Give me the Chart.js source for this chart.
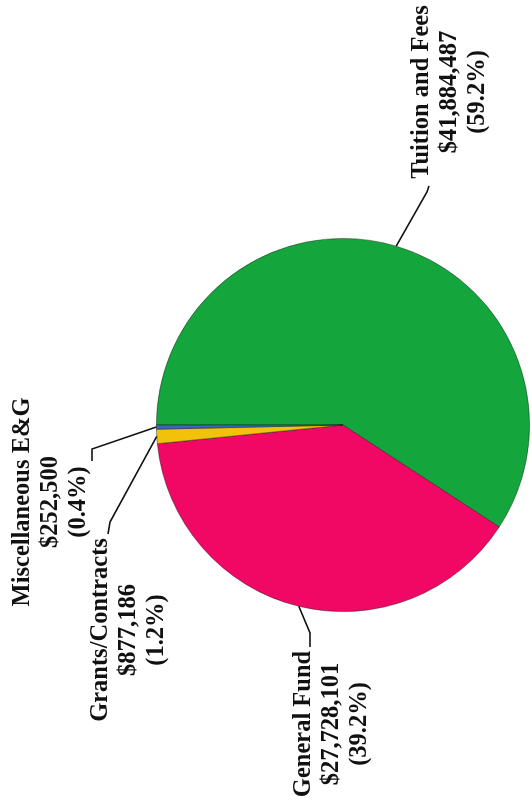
<!DOCTYPE html>
<html>
<head>
<meta charset="utf-8">
<script src="https://cdn.jsdelivr.net/npm/chart.js@4"></script>
<style>
  html, body { margin: 0; padding: 0; background: #ffffff; }
  #wrap { width: 532px; height: 805px; }
</style>
</head>
<body>
<div id="wrap"><canvas id="c" width="532" height="805"></canvas></div>
<script>
const categories = ["Tuition and Fees", "General Fund", "Grants/Contracts", "Miscellaneous E&G"];
const amounts = [41884487, 27728101, 877186, 252500];
const sliceColors = ["#14a63c", "#f00864", "#f2c20a", "#3866c4"];

const total = amounts.reduce((a, b) => a + b, 0);

// label layout (rotated text blocks): middle-line x, block center y, elbow & hook ends
const labelLayout = [
  { midX: 450, cy: 92,  elbow: [427, 192], hook: [429, 186] },
  { midX: 332, cy: 724, elbow: [310, 633], hook: [310, 647] },
  { midX: 129, cy: 630, elbow: [110, 522], hook: [108, 534] },
  { midX: 51,  cy: 502, elbow: [92, 449],  hook: [92, 461] }
];

const labelPlugin = {
  id: 'rotLabels',
  afterDraw(chart) {
    const ctx = chart.ctx;
    const meta = chart.getDatasetMeta(0);
    ctx.save();
    ctx.strokeStyle = '#111';
    ctx.lineWidth = 1.6;
    ctx.fillStyle = '#111';
    ctx.font = 'bold 24.5px "Liberation Serif", "Times New Roman", serif';
    meta.data.forEach((arc, i) => {
      const p = arc.getProps(['x', 'y', 'startAngle', 'endAngle', 'outerRadius'], true);
      const mid = (p.startAngle + p.endAngle) / 2;
      const ax = p.x + Math.cos(mid) * p.outerRadius;
      const ay = p.y + Math.sin(mid) * p.outerRadius;
      const L = labelLayout[i];
      ctx.beginPath();
      ctx.moveTo(ax, ay);
      ctx.lineTo(L.elbow[0], L.elbow[1]);
      ctx.lineTo(L.hook[0], L.hook[1]);
      ctx.stroke();
      const pct = (amounts[i] / total * 100).toFixed(1);
      const lines = [categories[i], '$' + amounts[i].toLocaleString('en-US'), '(' + pct + '%)'];
      lines.forEach((t, k) => {
        ctx.save();
        ctx.translate(L.midX + (k - 1) * 28, L.cy);
        ctx.rotate(-Math.PI / 2);
        ctx.textAlign = 'center';
        ctx.textBaseline = 'middle';
        ctx.fillText(t, 0, 0);
        ctx.restore();
      });
    });
    ctx.restore();
  }
};

new Chart(document.getElementById('c'), {
  type: 'pie',
  data: {
    labels: categories,
    datasets: [{
      data: amounts,
      backgroundColor: sliceColors,
      borderColor: 'rgba(20,20,20,0.55)',
      borderWidth: 0.8
    }]
  },
  options: {
    responsive: false,
    animation: false,
    rotation: 270,
    layout: { padding: { left: 156, right: 2, top: 238, bottom: 193 } },
    plugins: { legend: { display: false }, tooltip: { enabled: false } }
  },
  plugins: [labelPlugin]
});
</script>
</body>
</html>
